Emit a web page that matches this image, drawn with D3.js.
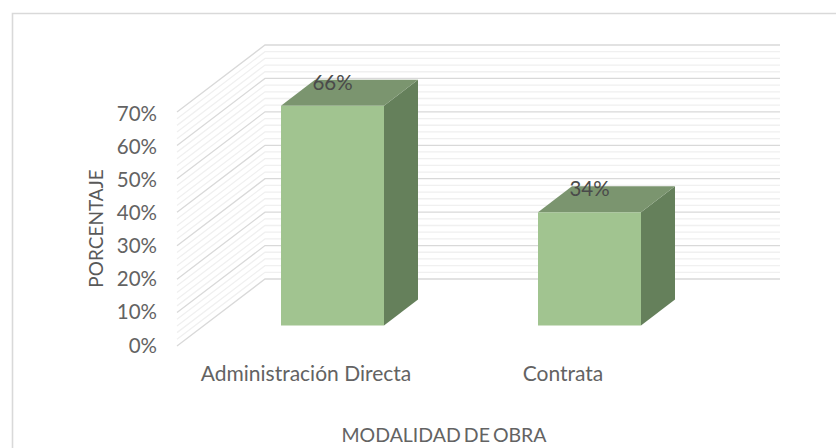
<!DOCTYPE html>
<html><head><meta charset="utf-8">
<style>html,body{margin:0;padding:0;background:#fff}svg{display:block}text{font-family:Lato,"Open Sans",sans-serif}</style>
<script src="https://cdn.jsdelivr.net/npm/d3@7"></script></head><body>
<svg id="c" width="836" height="448"></svg>
<script>
const categories = ["Administración Directa", "Contrata"];
const values = [66, 34];
const valueLabels = ["66%", "34%"];
const tickValues = [0, 10, 20, 30, 40, 50, 60, 70];
const minorValues = d3.range(0, 70, 2).filter(d => d % 10 !== 0);
const xTitle = "MODALIDAD DE OBRA";
const yTitle = "PORCENTAJE";

const svg = d3.select("#c");
svg.append("path").attr("d", "M12.5,448V13.5H836")
  .attr("fill", "none").attr("stroke", "#d9d9d9").attr("stroke-width", 1.6);

const y = d3.scaleLinear().domain([0, 70]).range([346, 112]);
const yLabel = d3.scaleLinear().domain([0, 70]).range([352.5, 120.5]);
const yBar = d3.scaleLinear().domain([0, 70]).range([325.5, 92.5]);
const x = d3.scaleBand().domain(categories).range([204, 718]);
const depthX = 88, depthY = -67;
const backRight = 780, frontLeft = 177;

const grid = svg.append("g").attr("fill", "none");
function wall(vals, color, w) {
  grid.selectAll(null).data(vals).join("path")
    .attr("d", d => {
      const yy = y(d);
      return d3.line()([[frontLeft, yy], [frontLeft + depthX, yy + depthY], [backRight, yy + depthY]]);
    })
    .attr("stroke", color).attr("stroke-width", w);
}
wall(minorValues, "#f0f0f0", 1.3);
wall(tickValues, "#d9d9d9", 1.3);

const barW = 103, dx = 34, dy = -26;
const barBase = yBar(0);
const center = d => x(d) + x.bandwidth() / 2;
const barX = d => center(d) - barW / 2;
const barTop = i => yBar(values[i]);
const bars = svg.append("g").selectAll("g").data(categories).join("g");
bars.append("path").attr("fill", "#65805b").attr("d", (d, i) => {
  const l = barX(d) + barW;
  return d3.line()([[l, barTop(i)], [l + dx, barTop(i) + dy], [l + dx, barBase + dy], [l, barBase]]) + "Z";
});
bars.append("path").attr("fill", "#7b956f").attr("d", (d, i) => {
  const l = barX(d);
  return d3.line()([[l, barTop(i)], [l + dx, barTop(i) + dy], [l + barW + dx, barTop(i) + dy], [l + barW, barTop(i)]]) + "Z";
});
bars.append("rect").attr("fill", "#a1c490")
  .attr("x", d => barX(d)).attr("width", barW)
  .attr("y", (d, i) => barTop(i)).attr("height", (d, i) => barBase - barTop(i));
bars.append("text").attr("text-anchor", "middle").attr("font-size", 20.5).attr("fill", "#4a4a4a")
  .attr("x", d => center(d)).attr("y", (d, i) => barTop(i) - 16)
  .text((d, i) => valueLabels[i]);

svg.append("g").selectAll("text").data(tickValues).join("text")
  .attr("text-anchor", "end").attr("x", 157).attr("y", d => yLabel(d))
  .attr("font-size", 20.5).attr("fill", "#636363").text(d => d + "%");
svg.append("g").selectAll("text").data(categories).join("text")
  .attr("text-anchor", "middle").attr("x", d => center(d) - 26.5).attr("y", 381)
  .attr("font-size", 21).attr("fill", "#636363").text(d => d);
svg.append("text").attr("text-anchor", "middle").attr("x", 444).attr("y", 441.5)
  .attr("font-size", 19.5).attr("word-spacing", -2).attr("fill", "#636363").text(xTitle);
svg.append("text").attr("text-anchor", "middle")
  .attr("transform", "translate(103,228.5) rotate(-90)")
  .attr("font-size", 19).attr("fill", "#595959").text(yTitle);
</script></body></html>
